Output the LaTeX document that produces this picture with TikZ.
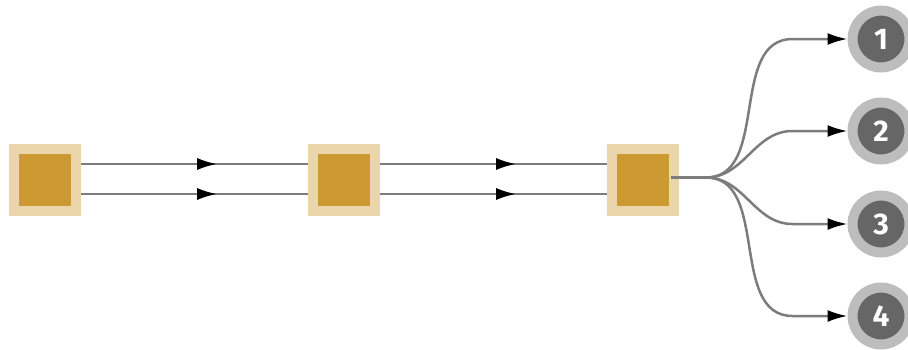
\documentclass[tikz,border=0pt]{standalone}
\usepackage{fontspec}
\setsansfont{Fira Sans}
\usetikzlibrary{arrows.meta,decorations.markings}

\definecolor{boxfill}{HTML}{CC9933}
\definecolor{boxrim}{HTML}{EAD6AA}
\definecolor{sinkfill}{HTML}{666666}
\definecolor{sinkrim}{HTML}{BDBDBD}
\definecolor{wire}{HTML}{7C7C7C}

\begin{document}
\begin{tikzpicture}[
    x=0.02cm, y=-0.02cm,
    stage/.style={rectangle,fill=boxfill,draw=boxrim,line width=0.2cm,minimum size=1.24cm,inner sep=0pt,outer sep=0.1cm},
    sink/.style={circle,fill=sinkfill,draw=sinkrim,line width=0.2cm,minimum size=1.14cm,inner sep=0pt,outer sep=0.1cm,text=white,font=\sffamily\bfseries\fontsize{17}{17}\selectfont},
    link/.style={draw=wire,line width=0.05cm},
    flow/.style={link,decoration={markings,mark=at position 0.6 with {\arrow{Latex[length=0.4cm,width=0.24cm,black]}}},postaction={decorate}},
    fan/.style={link,-{Latex[length=0.4cm,width=0.24cm,black]}}
]
\useasboundingbox (0,0) rectangle (908,349);

% three stages in a row
\node[stage] (s1) at (45,180) {};
\node[stage] (s2) at (344,180) {};
\node[stage] (s3) at (643,180) {};

% two parallel links between neighbours
\foreach \a/\b in {s1/s2,s2/s3} {
    \draw[flow] ([yshift=0.32cm]\a.east) -- ([yshift=0.32cm]\b.west);
    \draw[flow] ([yshift=-0.28cm]\a.east) -- ([yshift=-0.28cm]\b.west);
}

% last stage splits into four outputs
\coordinate (split) at ([xshift=-0.16cm,yshift=0.05cm]s3.east);
\foreach \i/\y in {1/39,2/131,3/224,4/316} {
    \node[sink] (o\i) at (881,\y) {\i};
    \draw[fan] (split) -- ++(0.7cm,0) to[out=0,in=180] ([xshift=-1.1cm]o\i.west) -- (o\i.west);
}
\end{tikzpicture}
\end{document}
